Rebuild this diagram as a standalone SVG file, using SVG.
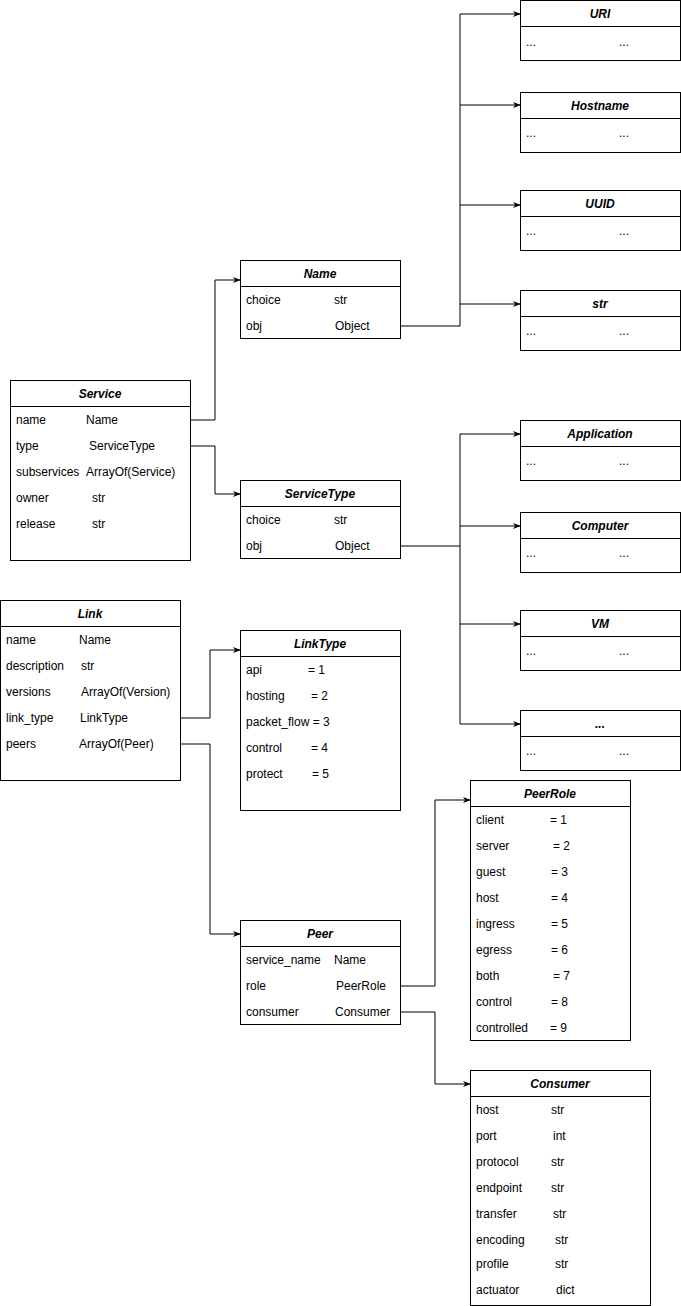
<svg xmlns="http://www.w3.org/2000/svg" width="681" height="1306" viewBox="0 0 681 1306">
<style>
rect{fill:#fff;stroke:#000;stroke-width:1}
line.h{stroke:#000;stroke-width:1}
text{font-family:"Liberation Sans",Arial,sans-serif;font-size:12px;fill:#000}
text.t{font-weight:bold;font-style:italic;text-anchor:middle}
#connectors path{fill:none;stroke:#000;stroke-width:1;marker-end:url(#a)}
</style>
<defs><marker id="a" viewBox="0 0 10 10" refX="9" refY="5" markerWidth="8" markerHeight="8" orient="auto" markerUnits="userSpaceOnUse"><path d="M0,1 L10,5 L0,9 L3,5 Z" fill="#000"/></marker></defs>
<rect x="0" y="0" width="681" height="1306" style="stroke:none"/>
<g id="connectors">
<path d="M190,420 H215 V280 H240"/>
<path d="M190,446 H215 V494 H240"/>
<path d="M400,326 H460 V14 H520"/>
<path d="M460,105 H520"/>
<path d="M460,205 H520"/>
<path d="M460,304 H520"/>
<path d="M400,546 H460 V434 H520"/>
<path d="M460,526 H520"/>
<path d="M460,624 H520"/>
<path d="M460,546 V724 H520"/>
<path d="M180,718 H210 V650 H240"/>
<path d="M180,744 H210 V934 H240"/>
<path d="M400,986 H435 V800 H470"/>
<path d="M400,1012 H435 V1084 H470"/>
</g>
<g id="URI"><rect x="520.5" y="0.5" width="160" height="60"/><line class="h" x1="520" y1="26.5" x2="681" y2="26.5"/><text class="t" x="600" y="18">URI</text><text x="526" y="46">...</text><text x="619" y="46">...</text></g>
<g id="Hostname"><rect x="520.5" y="92.5" width="160" height="60"/><line class="h" x1="520" y1="118.5" x2="681" y2="118.5"/><text class="t" x="600" y="110">Hostname</text><text x="526" y="137">...</text><text x="619" y="137">...</text></g>
<g id="UUID"><rect x="520.5" y="190.5" width="160" height="60"/><line class="h" x1="520" y1="216.5" x2="681" y2="216.5"/><text class="t" x="600" y="208">UUID</text><text x="526" y="235">...</text><text x="619" y="235">...</text></g>
<g id="str"><rect x="520.5" y="290.5" width="160" height="60"/><line class="h" x1="520" y1="316.5" x2="681" y2="316.5"/><text class="t" x="600" y="308">str</text><text x="526" y="335">...</text><text x="619" y="335">...</text></g>
<g id="Name"><rect x="240.5" y="260.5" width="160" height="78"/><line class="h" x1="240" y1="286.5" x2="401" y2="286.5"/><text class="t" x="320" y="278">Name</text><text x="246" y="304">choice</text><text x="334" y="304">str</text><text x="246" y="330">obj</text><text x="335" y="330">Object</text></g>
<g id="Service"><rect x="10.5" y="380.5" width="180" height="180"/><line class="h" x1="10" y1="406.5" x2="191" y2="406.5"/><text class="t" x="100" y="398">Service</text>
<text x="16" y="424">name</text><text x="86" y="424">Name</text>
<text x="16" y="450">type</text><text x="89" y="450">ServiceType</text>
<text x="16" y="476">subservices</text><text x="86" y="476">ArrayOf(Service)</text>
<text x="16" y="502">owner</text><text x="92" y="502">str</text>
<text x="16" y="528">release</text><text x="92" y="528">str</text></g>
<g id="ServiceType"><rect x="240.5" y="480.5" width="160" height="78"/><line class="h" x1="240" y1="506.5" x2="401" y2="506.5"/><text class="t" x="320" y="498">ServiceType</text><text x="246" y="524">choice</text><text x="334" y="524">str</text><text x="246" y="550">obj</text><text x="335" y="550">Object</text></g>
<g id="Application"><rect x="520.5" y="420.5" width="160" height="60"/><line class="h" x1="520" y1="446.5" x2="681" y2="446.5"/><text class="t" x="600" y="438">Application</text><text x="526" y="465">...</text><text x="619" y="465">...</text></g>
<g id="Computer"><rect x="520.5" y="512.5" width="160" height="60"/><line class="h" x1="520" y1="538.5" x2="681" y2="538.5"/><text class="t" x="600" y="530">Computer</text><text x="526" y="557">...</text><text x="619" y="557">...</text></g>
<g id="VM"><rect x="520.5" y="610.5" width="160" height="60"/><line class="h" x1="520" y1="636.5" x2="681" y2="636.5"/><text class="t" x="600" y="628">VM</text><text x="526" y="655">...</text><text x="619" y="655">...</text></g>
<g id="Etc"><rect x="520.5" y="710.5" width="160" height="60"/><line class="h" x1="520" y1="736.5" x2="681" y2="736.5"/><text class="t" x="600" y="728">...</text><text x="526" y="755">...</text><text x="619" y="755">...</text></g>
<g id="Link"><rect x="0.5" y="600.5" width="180" height="180"/><line class="h" x1="0" y1="626.5" x2="181" y2="626.5"/><text class="t" x="90" y="618">Link</text>
<text x="6" y="644">name</text><text x="79" y="644">Name</text>
<text x="6" y="670">description</text><text x="81" y="670">str</text>
<text x="6" y="696">versions</text><text x="81" y="696">ArrayOf(Version)</text>
<text x="6" y="722">link_type</text><text x="80" y="722">LinkType</text>
<text x="6" y="748">peers</text><text x="79" y="748">ArrayOf(Peer)</text></g>
<g id="LinkType"><rect x="240.5" y="630.5" width="160" height="180"/><line class="h" x1="240" y1="656.5" x2="401" y2="656.5"/><text class="t" x="320" y="648">LinkType</text>
<text x="246" y="674">api</text><text x="308" y="674">= 1</text>
<text x="246" y="700">hosting</text><text x="311" y="700">= 2</text>
<text x="246" y="726">packet_flow = 3</text>
<text x="246" y="752">control</text><text x="311" y="752">= 4</text>
<text x="246" y="778">protect</text><text x="312" y="778">= 5</text></g>
<g id="PeerRole"><rect x="470.5" y="780.5" width="160" height="260"/><line class="h" x1="470" y1="806.5" x2="631" y2="806.5"/><text class="t" x="550" y="798">PeerRole</text>
<text x="476" y="824">client</text><text x="550" y="824">= 1</text>
<text x="476" y="850">server</text><text x="553" y="850">= 2</text>
<text x="476" y="876">guest</text><text x="551" y="876">= 3</text>
<text x="476" y="902">host</text><text x="551" y="902">= 4</text>
<text x="476" y="928">ingress</text><text x="551" y="928">= 5</text>
<text x="476" y="954">egress</text><text x="551" y="954">= 6</text>
<text x="476" y="980">both</text><text x="553" y="980">= 7</text>
<text x="476" y="1006">control</text><text x="551" y="1006">= 8</text>
<text x="476" y="1032">controlled</text><text x="550" y="1032">= 9</text></g>
<g id="Peer"><rect x="240.5" y="920.5" width="160" height="104"/><line class="h" x1="240" y1="946.5" x2="401" y2="946.5"/><text class="t" x="320" y="938">Peer</text>
<text x="246" y="964">service_name</text><text x="334" y="964">Name</text>
<text x="246" y="990">role</text><text x="336" y="990">PeerRole</text>
<text x="246" y="1016">consumer</text><text x="335" y="1016">Consumer</text></g>
<g id="Consumer"><rect x="470.5" y="1070.5" width="180" height="235"/><line class="h" x1="470" y1="1096.5" x2="651" y2="1096.5"/><text class="t" x="560" y="1088">Consumer</text>
<text x="476" y="1114">host</text><text x="551" y="1114">str</text>
<text x="476" y="1140">port</text><text x="553" y="1140">int</text>
<text x="476" y="1166">protocol</text><text x="551" y="1166">str</text>
<text x="476" y="1192">endpoint</text><text x="551" y="1192">str</text>
<text x="476" y="1218">transfer</text><text x="553" y="1218">str</text>
<text x="476" y="1244">encoding</text><text x="555" y="1244">str</text>
<text x="476" y="1268">profile</text><text x="555" y="1268">str</text>
<text x="476" y="1294">actuator</text><text x="556" y="1294">dict</text></g>
</svg>
